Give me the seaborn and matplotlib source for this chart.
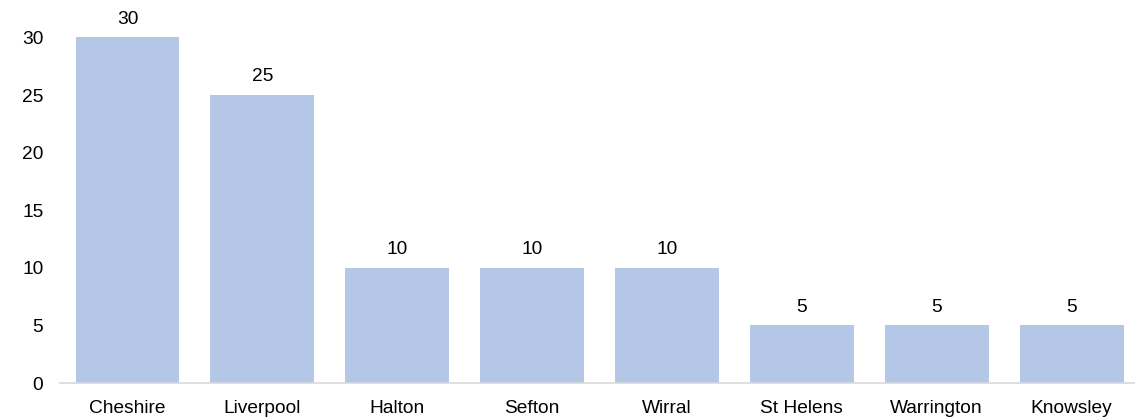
import matplotlib
matplotlib.use("Agg")
import matplotlib.pyplot as plt
import seaborn as sns
import pandas as pd

areas = ["Cheshire", "Liverpool", "Halton", "Sefton", "Wirral",
         "St Helens", "Warrington", "Knowsley"]
counts = [30, 25, 10, 10, 10, 5, 5, 5]
y_ticks = [0, 5, 10, 15, 20, 25, 30]

sns.set_style("white")
plt.rcParams["font.family"] = ["Liberation Sans", "DejaVu Sans"]

df = pd.DataFrame({"area": areas, "count": counts})

fig = plt.figure(figsize=(11.35, 4.19), dpi=100)
ax = fig.add_axes([60 / 1135, 36 / 419, 1 - 60 / 1135, 1 - 36 / 419])

sns.barplot(data=df, x="area", y="count", color="#B4C7E7", saturation=1,
            width=0.77, linewidth=0, ax=ax)

for i, v in enumerate(counts):
    ax.annotate(f"{v}", xy=(i, v), xytext=(0, 7), textcoords="offset points",
                ha="center", va="bottom", fontsize=13.8, color="#000000")

ax.set_xlim(-0.5, 7.47)
ax.set_ylim(0, 33.25)
ax.set_yticks(y_ticks)
ax.set_xlabel("")
ax.set_ylabel("")
ax.tick_params(axis="both", length=0, labelsize=13.8, colors="#000000")
ax.tick_params(axis="y", pad=12)
ax.tick_params(axis="x", pad=12)

for side in ["top", "right", "left"]:
    ax.spines[side].set_visible(False)
ax.spines["bottom"].set_color("#D9D9D9")
ax.spines["bottom"].set_linewidth(1.2)
ax.grid(False)

fig.savefig("out.png", dpi=100)
